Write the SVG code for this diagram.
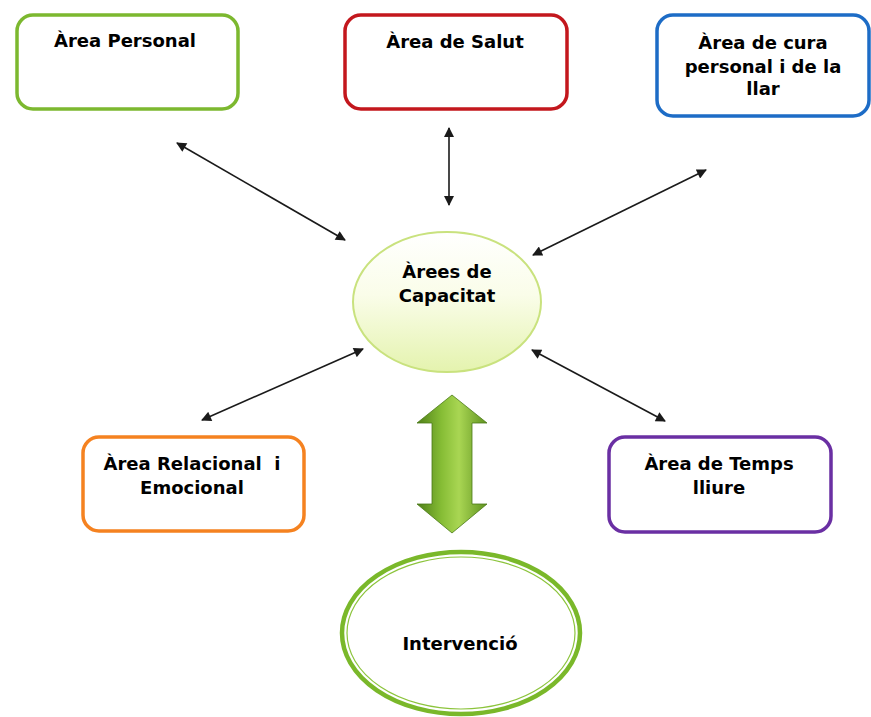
<svg xmlns="http://www.w3.org/2000/svg" width="871" height="717" viewBox="0 0 871 717">
<defs>
<style>
.box{fill:#ffffff;stroke-width:3.5}
.t{font-family:"DejaVu Sans",Verdana,sans-serif;font-weight:bold;font-size:18px;fill:#000;text-anchor:middle}
.c{stroke:#1a1a1a;stroke-width:1.6;fill:none;marker-start:url(#ah);marker-end:url(#ah)}
</style>
<marker id="ah" viewBox="0 0 10 10" refX="9" refY="5" markerWidth="11" markerHeight="10" markerUnits="userSpaceOnUse" orient="auto-start-reverse">
<path d="M0,0 L10,5 L0,10 z" fill="#1a1a1a"/>
</marker>
<linearGradient id="cap" x1="0" y1="0" x2="0" y2="1">
<stop offset="0" stop-color="#ffffff"/>
<stop offset="0.45" stop-color="#fafde9"/>
<stop offset="1" stop-color="#e4f3ae"/>
</linearGradient>
<linearGradient id="garrow" x1="0" y1="0" x2="1" y2="0">
<stop offset="0" stop-color="#4f7f18"/>
<stop offset="0.35" stop-color="#86bd35"/>
<stop offset="0.6" stop-color="#a9d653"/>
<stop offset="1" stop-color="#5f921f"/>
</linearGradient>
</defs>
<rect width="871" height="717" fill="#ffffff"/>

<g id="connectors">
<line class="c" x1="177" y1="143" x2="345" y2="240"/>
<line class="c" x1="449" y1="128" x2="449" y2="205"/>
<line class="c" x1="706" y1="170" x2="533" y2="255"/>
<line class="c" x1="202" y1="420" x2="363" y2="349"/>
<line class="c" x1="532" y1="350" x2="665" y2="421"/>
<polygon points="452,395 487,423 472,423 472,504 487,504 452,533 417,504 432,504 432,423 417,423" fill="url(#garrow)" stroke="#4a7a16" stroke-width="0.8"/>
</g>

<g id="area-personal">
<rect class="box" x="17" y="15" width="221" height="94" rx="16" stroke="#7cb82f"/>
<text class="t" x="125" y="47">Àrea Personal</text>
</g>

<g id="area-salut">
<rect class="box" x="345" y="15" width="222" height="94" rx="16" stroke="#c3171d"/>
<text class="t" x="455" y="48">Àrea de Salut</text>
</g>

<g id="area-cura">
<rect class="box" x="657" y="15" width="212" height="101" rx="16" stroke="#1d6cc6"/>
<text class="t" x="763" y="49">Àrea de cura</text>
<text class="t" x="763" y="73">personal i de la</text>
<text class="t" x="763" y="95">llar</text>
</g>

<g id="arees-capacitat">
<ellipse cx="447" cy="302" rx="94" ry="70" fill="url(#cap)" stroke="#c9e27e" stroke-width="2"/>
<text class="t" x="447" y="278">Àrees de</text>
<text class="t" x="447" y="302">Capacitat</text>
</g>

<g id="area-relacional">
<rect class="box" x="83" y="437" width="221" height="94" rx="16" stroke="#f58220"/>
<text class="t" x="192" y="470" xml:space="preserve">Àrea Relacional  i</text>
<text class="t" x="192" y="494">Emocional</text>
</g>

<g id="area-temps">
<rect class="box" x="609" y="437" width="222" height="95" rx="16" stroke="#6a2fa3"/>
<text class="t" x="719" y="470">Àrea de Temps</text>
<text class="t" x="719" y="494">lliure</text>
</g>

<g id="intervencio">
<ellipse cx="461" cy="633" rx="119" ry="81" fill="#ffffff" stroke="#7ab82a" stroke-width="4.5"/>
<ellipse cx="461" cy="633" rx="114" ry="76" fill="none" stroke="#8cc43c" stroke-width="1.2"/>
<text class="t" x="460" y="650">Intervenció</text>
</g>
</svg>
